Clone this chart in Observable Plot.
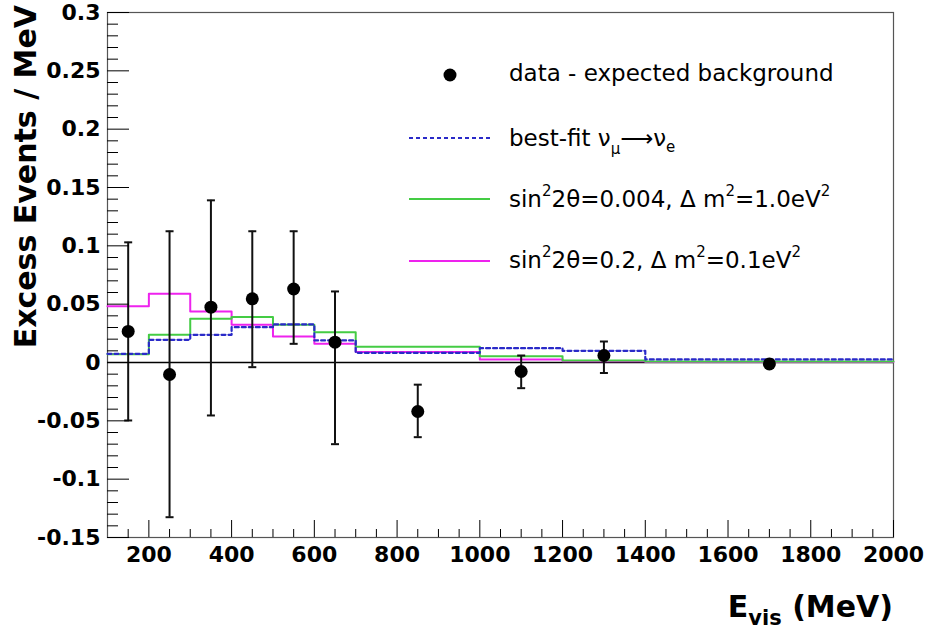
<!DOCTYPE html>
<html><head><meta charset="utf-8">
<script src="https://cdn.jsdelivr.net/npm/d3@7"></script>
<script src="https://cdn.jsdelivr.net/npm/@observablehq/plot@0.6"></script>
<style>body{margin:0;background:#fff}#chart{width:925px;height:632px}</style>
</head><body><div id="chart"></div>
<script>
// Data points: bin centre (MeV), excess value, error-bar low / high
const pointE = [150, 250, 350, 450, 550, 650, 850, 1100, 1300, 1700];
const pointV = [0.0266, -0.0103, 0.0474, 0.0546, 0.063, 0.0174, -0.042, -0.0077, 0.006, -0.0012];
const pointLo = [-0.0497, -0.1326, -0.0454, -0.004, 0.016, -0.07, -0.064, -0.022, -0.009, -0.004];
const pointHi = [0.103, 0.1125, 0.139, 0.1125, 0.1125, 0.0609, -0.019, 0.006, 0.018, 0.002];

// Histogram bins
const binEdges = [100, 200, 300, 400, 500, 600, 700, 1000, 1200, 1400, 2000];
const bestFit = [0.0074, 0.0194, 0.0237, 0.0303, 0.0326, 0.0189, 0.0083, 0.0123, 0.0100, 0.0026];
const model004 = [0.0070, 0.0237, 0.0374, 0.0389, 0.0323, 0.0260, 0.0134, 0.0054, 0.0017, 0.0008];
const model02 = [0.0483, 0.0590, 0.0437, 0.0323, 0.0223, 0.0160, 0.0089, 0.0026, 0.0010, 0.0005];

// Ticks
const xTicks = [200, 400, 600, 800, 1000, 1200, 1400, 1600, 1800, 2000];
const xMinor = [150, 250, 300, 350, 450, 500, 550, 650, 700, 750, 850, 900, 950, 1050, 1100, 1150, 1250, 1300, 1350, 1450, 1500, 1550, 1650, 1700, 1750, 1850, 1900, 1950];
const yTicks = [-0.15, -0.1, -0.05, 0, 0.05, 0.1, 0.15, 0.2, 0.25, 0.3];
const yMinor = [-0.14, -0.13, -0.12, -0.11, -0.09, -0.08, -0.07, -0.06, -0.04, -0.03, -0.02, -0.01, 0.01, 0.02, 0.03, 0.04, 0.06, 0.07, 0.08, 0.09, 0.11, 0.12, 0.13, 0.14, 0.16, 0.17, 0.18, 0.19, 0.21, 0.22, 0.23, 0.24, 0.26, 0.27, 0.28, 0.29];

const points = pointE.map((e, i) => ({e, v: pointV[i], lo: pointLo[i], hi: pointHi[i]}));
const caps = points.flatMap(d => [{e: d.e, y: d.lo}, {e: d.e, y: d.hi}]);
function steps(vals) {
  const pts = vals.map((v, i) => ({x: binEdges[i], y: v}));
  pts.push({x: binEdges[binEdges.length - 1], y: vals[vals.length - 1]});
  return pts;
}
const capSymbol = {draw(ctx, size) { const w = Math.sqrt(size / Math.PI); ctx.moveTo(-w, 0); ctx.lineTo(w, 0); }};
const FONT = "DejaVu Sans, Liberation Sans, sans-serif";
const fmtY = d => String(+d.toFixed(2));

const chart = Plot.plot({
  width: 925, height: 632,
  marginLeft: 107, marginRight: 32, marginTop: 12, marginBottom: 95,
  style: {fontFamily: FONT, background: "#fff"},
  x: {domain: [100, 2000], label: null},
  y: {domain: [-0.15, 0.3], label: null},
  marks: [
    Plot.frame({stroke: "#555", strokeWidth: 1.2}),
    Plot.ruleY([0], {stroke: "#000", strokeWidth: 1.3}),
    Plot.line(steps(model02), {x: "x", y: "y", curve: "step-after", stroke: "#ee22ee", strokeWidth: 2}),
    Plot.line(steps(model004), {x: "x", y: "y", curve: "step-after", stroke: "#44cc44", strokeWidth: 2}),
    Plot.line(steps(bestFit), {x: "x", y: "y", curve: "step-after", stroke: "#2a2ac8", strokeWidth: 2.2, strokeDasharray: "4,3"}),
    Plot.ruleX(points, {x: "e", y1: "lo", y2: "hi", stroke: "#111", strokeWidth: 2}),
    Plot.dot(caps, {x: "e", y: "y", symbol: capSymbol, r: 4, stroke: "#111", strokeWidth: 2}),
    Plot.dot(points, {x: "e", y: "v", r: 6.5, fill: "#000"}),
    Plot.axisY({ticks: yTicks, tickSize: -22, tickFormat: () => "", label: null, stroke: "#000"}),
    Plot.axisY({ticks: yMinor, tickSize: -11, tickFormat: () => "", label: null, stroke: "#000"}),
    Plot.axisY({ticks: yTicks, tickSize: 0, tickPadding: 7, tickFormat: fmtY, label: null, fontSize: 22, fontWeight: "bold", fill: "#000"}),
    Plot.axisX({ticks: xTicks, tickSize: -17, tickFormat: () => "", label: null, stroke: "#000"}),
    Plot.axisX({ticks: xMinor, tickSize: -8, tickFormat: () => "", label: null, stroke: "#000"}),
    Plot.axisX({ticks: xTicks, tickSize: 0, tickPadding: 9, tickFormat: d => String(d), label: null, fontSize: 22, fontWeight: "bold", fill: "#000"})
  ]
});
document.getElementById("chart").appendChild(chart);

const svg = d3.select(chart);
// Axis titles
svg.append("text")
  .attr("transform", "translate(36,5) rotate(-90)")
  .attr("text-anchor", "end")
  .attr("font-family", FONT).attr("font-weight", "bold").attr("font-size", 30)
  .text("Excess Events / MeV");
const xt = svg.append("text")
  .attr("x", 893).attr("y", 617).attr("text-anchor", "end")
  .attr("font-family", FONT).attr("font-weight", "bold").attr("font-size", 30);
xt.append("tspan").text("E");
xt.append("tspan").attr("font-size", 21).attr("dy", 8).text("vis");
xt.append("tspan").attr("dy", -8).text(" (MeV)");

// Legend
const lg = svg.append("g").attr("font-family", FONT).attr("font-size", 23).attr("fill", "#000").attr("text-anchor", "start");
lg.append("circle").attr("cx", 450).attr("cy", 75).attr("r", 6.5).attr("fill", "#000");
lg.append("text").attr("x", 509).attr("y", 81).text("data - expected background");

lg.append("line").attr("x1", 409).attr("x2", 490).attr("y1", 138).attr("y2", 138)
  .attr("stroke", "#2a2ac8").attr("stroke-width", 2).attr("stroke-dasharray", "4,3");
const t2 = lg.append("text").attr("x", 509).attr("y", 146);
t2.append("tspan").text("best-fit ν");
t2.append("tspan").attr("font-size", 15).attr("dy", 8).text("μ");
t2.append("tspan").attr("dy", -8).text("⟶ν");
t2.append("tspan").attr("font-size", 15).attr("dy", 6).text("e");

function oscText(y, parts) {
  const t = lg.append("text").attr("x", 509).attr("y", y);
  let pending = 0;
  parts.forEach(p => {
    if (p.sup) { t.append("tspan").attr("font-size", 15).attr("dy", -11 + pending).text(p.sup); pending = 11; }
    else { t.append("tspan").attr("dy", pending).text(p.t); pending = 0; }
  });
}
lg.append("line").attr("x1", 409).attr("x2", 490).attr("y1", 199).attr("y2", 199)
  .attr("stroke", "#44cc44").attr("stroke-width", 2);
oscText(207, [{t: "sin"}, {sup: "2"}, {t: "2θ=0.004, Δ m"}, {sup: "2"}, {t: "=1.0eV"}, {sup: "2"}]);
lg.append("line").attr("x1", 409).attr("x2", 490).attr("y1", 261).attr("y2", 261)
  .attr("stroke", "#ee22ee").attr("stroke-width", 2);
oscText(268, [{t: "sin"}, {sup: "2"}, {t: "2θ=0.2, Δ m"}, {sup: "2"}, {t: "=0.1eV"}, {sup: "2"}]);
</script></body></html>
